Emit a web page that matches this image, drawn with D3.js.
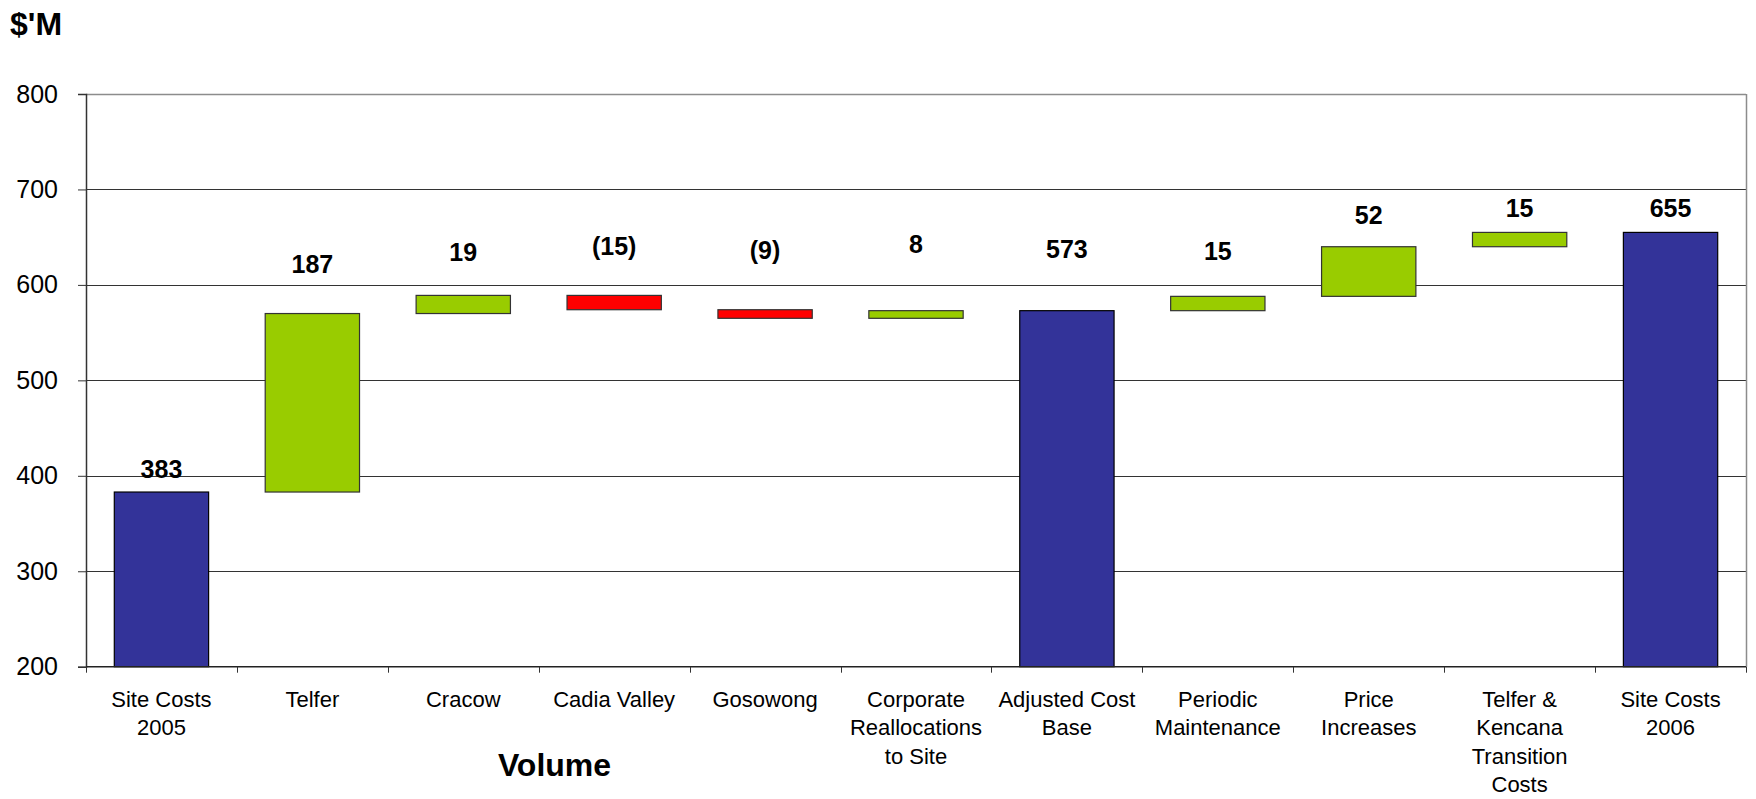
<!DOCTYPE html>
<html>
<head>
<meta charset="utf-8">
<script src="https://cdn.jsdelivr.net/npm/d3@7"></script>
<style>
  html, body { margin: 0; padding: 0; background: #ffffff; }
  svg { display: block; font-family: "Liberation Sans", Arial, sans-serif; }
</style>
</head>
<body>
<svg id="chart" width="1756" height="799"></svg>
<script>
// ---------- data ----------
const categories = [
  "Site Costs 2005", "Telfer", "Cracow", "Cadia Valley", "Gosowong",
  "Corporate Reallocations to Site", "Adjusted Cost Base", "Periodic Maintenance",
  "Price Increases", "Telfer & Kencana Transition Costs", "Site Costs 2006"
];
const categoryLines = [
  ["Site Costs", "2005"], ["Telfer"], ["Cracow"], ["Cadia Valley"], ["Gosowong"],
  ["Corporate", "Reallocations", "to Site"], ["Adjusted Cost", "Base"],
  ["Periodic", "Maintenance"], ["Price", "Increases"],
  ["Telfer &", "Kencana", "Transition", "Costs"], ["Site Costs", "2006"]
];
// change of each step ("total" steps carry the running total)
const values = [383, 187, 19, -15, -9, 8, 573, 15, 52, 15, 655];
const kinds = ["total", "delta", "delta", "delta", "delta", "delta", "total", "delta", "delta", "delta", "total"];
const valueLabels = ["383", "187", "19", "(15)", "(9)", "8", "573", "15", "52", "15", "655"];
// level ($M) at which each value label sits
const labelLevels = [398, 612, 625, 631, 627, 633, 628, 626, 664, 671, 671];
const yTicks = [200, 300, 400, 500, 600, 700, 800];
const yUnit = "$'M";
const xTitle = "Volume";

// ---------- waterfall geometry from data ----------
let running = 0;
const bars = values.map((v, i) => {
  let lo, hi;
  if (kinds[i] === "total") { lo = 200; hi = v; running = v; }
  else { const start = running; running += v; lo = Math.min(start, running); hi = Math.max(start, running); }
  return { cat: categories[i], lo, hi, kind: kinds[i], v, label: valueLabels[i], level: labelLevels[i], lines: categoryLines[i] };
});

// ---------- layout ----------
const svg = d3.select("#chart");
const pLeft = 86, pRight = 1746, pTop = 94, pBottom = 666.7;

const x = d3.scaleBand().domain(categories).range([pLeft, pRight]).padding(0);
const y = d3.scaleLinear().domain([200, 800]).range([pBottom, pTop]);
const barW = x.bandwidth() * 0.625;

const colorOf = b => b.kind === "total" ? "#333399" : (b.v < 0 ? "#ff0000" : "#99cc00");

// gridlines
svg.append("g").selectAll("line").data(yTicks.filter(t => t > 200)).join("line")
  .attr("x1", pLeft).attr("x2", pRight)
  .attr("y1", d => Math.round(y(d)) + 0.5).attr("y2", d => Math.round(y(d)) + 0.5)
  .attr("stroke", d => d === 800 ? "#8c8c8c" : "#333333")
  .attr("stroke-width", d => d === 800 ? 1.5 : 1);

// right border of plot area
svg.append("line")
  .attr("x1", pRight + 0.5).attr("x2", pRight + 0.5)
  .attr("y1", pTop).attr("y2", pBottom)
  .attr("stroke", "#8c8c8c").attr("stroke-width", 1.5);

// bars
svg.append("g").selectAll("rect").data(bars).join("rect")
  .attr("x", d => x(d.cat) + (x.bandwidth() - barW) / 2)
  .attr("width", barW)
  .attr("y", d => y(d.hi))
  .attr("height", d => Math.max(1, y(d.lo) - y(d.hi)))
  .attr("fill", colorOf)
  .attr("stroke", d => d.kind === "total" ? "#000000" : "#333333")
  .attr("stroke-width", 1.2);

// y axis
const yAxis = d3.axisLeft(y).tickValues(yTicks).tickSize(8).tickPadding(20).tickFormat(d3.format("d"));
const gy = svg.append("g").attr("transform", `translate(${pLeft},0)`).call(yAxis);
gy.select(".domain").attr("stroke", "#333333").attr("stroke-width", 1.5);
gy.selectAll(".tick line").attr("stroke", "#333333");
gy.selectAll(".tick text").attr("font-size", 25).attr("fill", "#000")
  .attr("font-family", "Liberation Sans, Arial, sans-serif");

// x axis
const xTickPos = categories.map(c => x(c)).concat([pRight]);
const xg = svg.append("g");
xg.append("line").attr("x1", pLeft).attr("x2", pRight)
  .attr("y1", pBottom).attr("y2", pBottom).attr("stroke", "#222").attr("stroke-width", 1.5);
xg.selectAll("line.tk").data(xTickPos).join("line").attr("class", "tk")
  .attr("x1", d => Math.round(d) + 0.5).attr("x2", d => Math.round(d) + 0.5)
  .attr("y1", pBottom).attr("y2", pBottom + 6).attr("stroke", "#333");

// category labels
const catText = svg.append("g").selectAll("text").data(bars).join("text")
  .attr("x", d => x(d.cat) + x.bandwidth() / 2)
  .attr("y", 707)
  .attr("text-anchor", "middle")
  .attr("font-size", 22)
  .attr("fill", "#000");
catText.selectAll("tspan").data(d => d.lines).join("tspan")
  .attr("x", function() { return d3.select(this.parentNode).attr("x"); })
  .attr("dy", (d, i) => i === 0 ? 0 : 28.4)
  .text(d => d);

// value labels
svg.append("g").selectAll("text").data(bars).join("text")
  .attr("x", d => x(d.cat) + x.bandwidth() / 2)
  .attr("y", d => y(d.level))
  .attr("text-anchor", "middle")
  .attr("font-size", 25)
  .attr("font-weight", "bold")
  .attr("fill", "#000")
  .text(d => d.label);

// unit label
svg.append("text").attr("x", 10).attr("y", 35)
  .attr("font-size", 32).attr("font-weight", "bold").attr("fill", "#000")
  .text(yUnit);

// x title
svg.append("text").attr("x", 554.5).attr("y", 776)
  .attr("text-anchor", "middle")
  .attr("font-size", 32).attr("font-weight", "bold").attr("fill", "#000")
  .text(xTitle);
</script>
</body>
</html>
